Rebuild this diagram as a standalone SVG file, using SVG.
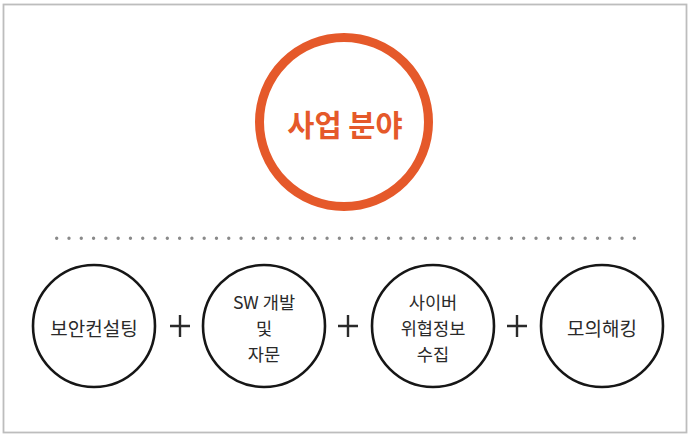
<svg xmlns="http://www.w3.org/2000/svg" width="693" height="436" viewBox="0 0 693 436">
<style>
.node{fill:#fff;stroke:#161616;stroke-width:2.6}
.lbl{font-family:"Noto Sans CJK KR","Noto Sans",sans-serif;font-size:19px;fill:#2a2a2a;text-anchor:middle;dominant-baseline:central}
.ml{font-size:17.6px}
.plus{stroke:#2a2a2a;stroke-width:2.4}
</style>
<rect x="3.5" y="4.5" width="683" height="428" fill="#fff" stroke="#bdbdbd" stroke-width="1.8"/>
<g id="title">
<circle cx="344" cy="122" r="84.5" fill="#fff" stroke="#E5592A" stroke-width="9"/>
<text x="345" y="123" font-family="Noto Sans CJK KR,sans-serif" font-size="29.5" font-weight="bold" fill="#E5592A" text-anchor="middle" dominant-baseline="central">사업 분야</text>
</g>
<g id="divider">
<line x1="56.7" y1="238.3" x2="634.5" y2="238.3" stroke="#8a8a8a" stroke-width="3.4" stroke-linecap="round" stroke-dasharray="0 12.29"/>
</g>
<g id="n1"><circle class="node" cx="94" cy="326" r="61"/><text class="lbl" x="94" y="327">보안컨설팅</text></g>
<g id="n2"><circle class="node" cx="264" cy="326" r="61"/><text class="lbl ml" x="264" y="301">SW 개발</text><text class="lbl ml" x="264" y="327">및</text><text class="lbl ml" x="264" y="353">자문</text></g>
<g id="n3"><circle class="node" cx="433" cy="326" r="61"/><text class="lbl ml" x="433" y="301">사이버</text><text class="lbl ml" x="433" y="327">위협정보</text><text class="lbl ml" x="433" y="353">수집</text></g>
<g id="n4"><circle class="node" cx="602" cy="326" r="61"/><text class="lbl" x="602" y="327">모의해킹</text></g>
<g id="connectors">
<path class="plus" d="M170 326H190M180 315V337"/>
<path class="plus" d="M338 326H358M348 315V337"/>
<path class="plus" d="M507 326H527M517 315V337"/>
</g>
</svg>
